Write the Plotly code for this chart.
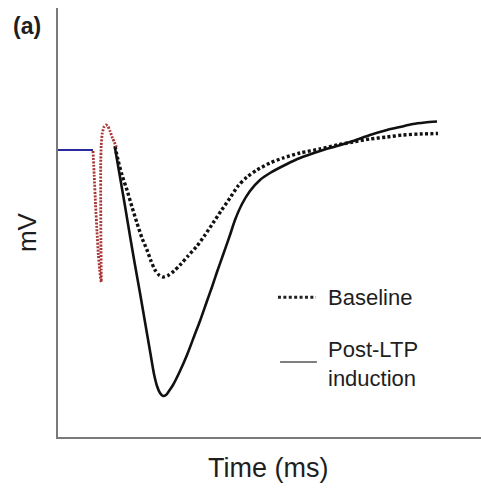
import plotly.graph_objects as go

# Pre-stimulus baseline (ms, mV)
pre_t = [0.0, 3.5]
pre_v = [0.0, 0.0]

# Stimulus artifact
art_t = [3.50, 3.62, 3.76, 3.90, 4.04, 4.17, 4.28, 4.33, 4.32, 4.29, 4.27, 4.27, 4.32, 4.43, 4.60, 4.80, 5.00, 5.20, 5.45, 5.85]
art_v = [-0.01, -0.25, -0.55, -0.82, -1.05, -1.20, -1.30, -1.32, -1.20, -0.90, -0.50, -0.15, 0.05, 0.17, 0.23, 0.25, 0.235, 0.19, 0.12, 0.03]

# Baseline fEPSP
base_t = [5.7, 6.0, 6.4, 6.9, 7.4, 7.9, 8.4, 8.9, 9.3, 9.7, 10.1, 10.5, 11.0, 11.6, 12.2, 13.0, 13.9, 14.7,
          15.5, 16.3, 17.2, 18.0, 18.9, 19.9, 21.2, 22.5, 24.2, 26.2, 27.9, 29.5, 31.2, 32.9, 34.5, 36.2, 38.0]
base_v = [0.04, -0.10, -0.25, -0.40, -0.57, -0.73, -0.88, -1.00, -1.11, -1.20, -1.25, -1.27, -1.255, -1.21, -1.15, -1.06, -0.96, -0.85,
          -0.73, -0.61, -0.48, -0.36, -0.27, -0.20, -0.13, -0.08, -0.03, 0.01, 0.05, 0.08, 0.11, 0.13, 0.15, 0.16, 0.165]

# Post-LTP induction fEPSP
ltp_t = [5.7, 6.2, 6.7, 7.2, 7.7, 8.2, 8.7, 9.2, 9.6, 9.9, 10.2, 10.5, 10.8, 11.1, 11.5, 12.2, 12.9, 13.7, 14.2, 14.9,
         15.4, 15.9, 16.5, 17.2, 17.7, 18.4, 19.2, 20.2, 21.2, 22.9, 24.2, 26.2, 27.9, 29.5, 31.2, 32.9, 34.2, 35.5, 36.7, 37.9]
ltp_v = [0.02, -0.27, -0.56, -0.86, -1.15, -1.43, -1.72, -2.01, -2.24, -2.36, -2.43, -2.46, -2.45, -2.41, -2.35, -2.21, -2.05, -1.84, -1.71, -1.51,
         -1.37, -1.22, -1.05, -0.85, -0.70, -0.54, -0.41, -0.30, -0.23, -0.14, -0.08, -0.01, 0.04, 0.09, 0.15, 0.20, 0.23, 0.26, 0.275, 0.285]

FONT = "Liberation Sans, Arial, sans-serif"
TXT = "#1e1e1e"

fig = go.Figure()
fig.add_trace(go.Scatter(x=ltp_t, y=ltp_v, mode="lines",
                         line=dict(color="#111111", width=2.6, shape="spline", smoothing=0.7)))
fig.add_trace(go.Scatter(x=base_t, y=base_v, mode="lines",
                         line=dict(color="#111111", width=3.4, dash="3px,2.4px", shape="spline", smoothing=0.7)))
fig.add_trace(go.Scatter(x=pre_t, y=pre_v, mode="lines",
                         line=dict(color="#2a2aa0", width=2.2)))
fig.add_trace(go.Scatter(x=art_t, y=art_v, mode="lines",
                         line=dict(color="#a83434", width=2.8, dash="2px,1.4px", shape="spline", smoothing=0.4)))

# Legend samples
fig.add_shape(type="line", xref="paper", yref="paper", x0=0.520, x1=0.610, y0=0.326, y1=0.326,
              line=dict(color="#222222", width=3, dash="3px,2.4px"))
fig.add_shape(type="line", xref="paper", yref="paper", x0=0.525, x1=0.612, y0=0.175, y1=0.175,
              line=dict(color="#555555", width=1.6))

annots = [
    dict(text="Baseline", x=0.634, y=0.326, xanchor="left", yanchor="middle", size=22),
    dict(text="Post-LTP<br>induction", x=0.634, y=0.170, xanchor="left", yanchor="middle", size=22),
    dict(text="<b>(a)</b>", x=-0.073, y=0.958, xanchor="center", yanchor="middle", size=23),
    dict(text="Time (ms)", x=0.496, y=-0.072, xanchor="center", yanchor="middle", size=27),
]
for a in annots:
    fig.add_annotation(text=a["text"], x=a["x"], y=a["y"], xref="paper", yref="paper",
                       xanchor=a["xanchor"], yanchor=a["yanchor"], showarrow=False, align="left",
                       font=dict(family=FONT, size=a["size"], color=TXT))
fig.add_annotation(text="mV", x=-0.073, y=0.478, xref="paper", yref="paper", textangle=-90,
                   xanchor="center", yanchor="middle", showarrow=False,
                   font=dict(family=FONT, size=26, color=TXT))

fig.update_layout(
    width=481, height=488,
    margin=dict(l=58, r=0, t=8, b=51),
    paper_bgcolor="white", plot_bgcolor="white",
    showlegend=False,
    xaxis=dict(range=[0, 42.3], showline=True, linecolor="#7a7a7a", linewidth=2,
               showgrid=False, zeroline=False, showticklabels=False, ticks=""),
    yaxis=dict(range=[-2.87, 1.42], showline=True, linecolor="#7a7a7a", linewidth=2,
               showgrid=False, zeroline=False, showticklabels=False, ticks=""),
)

fig.write_html("out.html")
